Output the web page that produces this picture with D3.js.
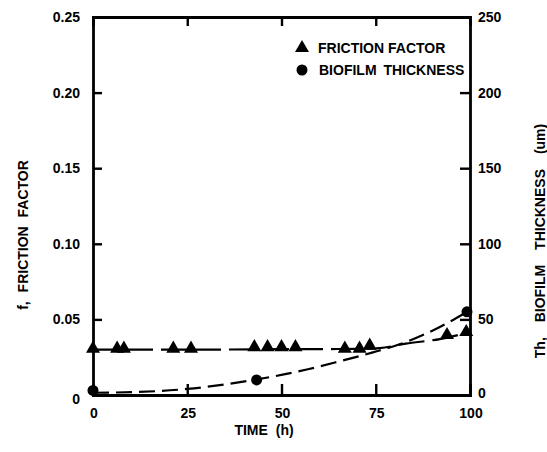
<!DOCTYPE html>
<html>
<head>
<meta charset="utf-8">
<script src="https://cdn.jsdelivr.net/npm/d3@7"></script>
<style>
  html, body { margin: 0; padding: 0; background: #fff; }
  text { font-family: "Liberation Sans", Arial, sans-serif; font-weight: bold; fill: #000; }
</style>
</head>
<body>
<svg id="chart" width="547" height="452"></svg>
<script>
// ---- data ----
const frictionTime   = [0, 6.4, 8.2, 21.3, 26, 42.8, 46.3, 50, 53.7, 66.8, 70.7, 73.4, 93.9, 99];
const frictionValue  = [0.030, 0.030, 0.030, 0.030, 0.030, 0.031, 0.031, 0.031, 0.031, 0.030, 0.030, 0.032, 0.039, 0.041];
const frictionFitTime  = [0, 25, 50, 70, 76, 83, 92, 99];
const frictionFitValue = [0.030, 0.030, 0.0303, 0.0305, 0.031, 0.034, 0.037, 0.041];

const thickTime   = [0, 43.4, 99.2];
const thickValue  = [3, 10, 55];
const thickFitTime  = [0, 12, 25, 39, 57, 65, 74, 83, 92, 99.2];
const thickFitValue = [1.5, 2, 4, 8.5, 17, 22, 28, 35, 45, 55];

const xTicks = [0, 25, 50, 75, 100];
const xTopTicks = [25, 50, 75];
const leftTicks = [0, 0.05, 0.10, 0.15, 0.20, 0.25];
const leftTickLabels = ["0", "0.05", "0.10", "0.15", "0.20", "0.25"];
const rightTicks = [0, 50, 100, 150, 200, 250];

const legendLabels = ["FRICTION FACTOR", "BIOFILM THICKNESS"];
const xTitle = "TIME (h)";
const leftTitle = "f, FRICTION FACTOR";
const rightTitle = "Th, BIOFILM THICKNESS (um)";

// ---- layout ----
const svg = d3.select("#chart");
const L = 93, R = 470, T = 17, B = 395;

const x = d3.scaleLinear().domain([0, 100]).range([L, R]);
const yL = d3.scaleLinear().domain([0, 0.25]).range([B, T]);
const yR = d3.scaleLinear().domain([0, 250]).range([B, T]);

// fit lines
const fLine = d3.line().x(d => x(d[0])).y(d => yL(d[1])).curve(d3.curveMonotoneX);
const tLine = d3.line().x(d => x(d[0])).y(d => yR(d[1])).curve(d3.curveMonotoneX);

svg.append("path")
  .attr("d", fLine(frictionFitTime.map((t, i) => [t, frictionFitValue[i]])))
  .attr("fill", "none").attr("stroke", "#000").attr("stroke-width", 2.2)
  .attr("stroke-dasharray", "26,8");

svg.append("path")
  .attr("d", tLine(thickFitTime.map((t, i) => [t, thickFitValue[i]])))
  .attr("fill", "none").attr("stroke", "#000").attr("stroke-width", 2.2)
  .attr("stroke-dasharray", "16,7");

// axes
const axisG = svg.append("g");
const axL = d3.axisRight(yL).tickValues(leftTicks).tickSize(9).tickFormat("");
const axR = d3.axisLeft(yR).tickValues(rightTicks).tickSize(10).tickFormat("");
const axB = d3.axisTop(x).tickValues(xTicks).tickSize(11).tickFormat("");
const axT = d3.axisBottom(x).tickValues(xTopTicks).tickSize(9).tickFormat("");

axisG.append("g").attr("transform", `translate(${L},0)`).call(axL);
axisG.append("g").attr("transform", `translate(${R},0)`).call(axR);
axisG.append("g").attr("transform", `translate(0,${B})`).call(axB);
axisG.append("g").attr("transform", `translate(0,${T})`).call(axT);
axisG.selectAll("path.domain").attr("stroke", "#000").attr("stroke-width", 2.8);
axisG.selectAll(".tick line").attr("stroke", "#000").attr("stroke-width", 2.4);

// tick labels
svg.append("g").selectAll("text").data(leftTicks).join("text")
  .attr("x", 80).attr("y", d => yL(d) + 5 + (d === 0 ? 4 : 0))
  .attr("text-anchor", "end").attr("font-size", 14)
  .text((d, i) => leftTickLabels[i]);

svg.append("g").selectAll("text").data(rightTicks).join("text")
  .attr("x", 478).attr("y", d => yR(d) + 5 - (d === 0 ? 2 : 0))
  .attr("text-anchor", "start").attr("font-size", 14)
  .text(d => d);

svg.append("g").selectAll("text").data(xTicks).join("text")
  .attr("x", d => x(d) + 1).attr("y", 418)
  .attr("text-anchor", "middle").attr("font-size", 14)
  .text(d => d);

// titles
svg.append("text").attr("x", 264).attr("y", 435).attr("text-anchor", "middle")
  .attr("font-size", 14).style("word-spacing", "4px").text(xTitle);

svg.append("text").attr("transform", `translate(28,235) rotate(-90)`)
  .attr("text-anchor", "middle").attr("font-size", 14).style("word-spacing", "5px")
  .text(leftTitle);

svg.append("text").attr("transform", `translate(545,241) rotate(-90)`)
  .attr("text-anchor", "middle").attr("font-size", 14).style("word-spacing", "11px")
  .text(rightTitle);

// markers
const tri = d3.symbol().type(d3.symbolTriangle).size(85);
svg.append("g").selectAll("path").data(frictionTime).join("path")
  .attr("d", tri)
  .attr("transform", (d, i) => `translate(${x(d)},${yL(frictionValue[i]) - 1})`)
  .attr("fill", "#000");

svg.append("g").selectAll("circle").data(thickTime).join("circle")
  .attr("cx", d => x(d)).attr("cy", (d, i) => yR(thickValue[i]))
  .attr("r", 5.5).attr("fill", "#000");

// legend
const lg = svg.append("g");
lg.append("path").attr("d", tri).attr("transform", "translate(302,48)").attr("fill", "#000");
lg.append("circle").attr("cx", 302).attr("cy", 70).attr("r", 5.5).attr("fill", "#000");
lg.append("text").attr("x", 318).attr("y", 53).attr("font-size", 14).text(legendLabels[0]);
lg.append("text").attr("x", 319).attr("y", 75).attr("font-size", 14).style("word-spacing", "3px").text(legendLabels[1]);
</script>
</body>
</html>
